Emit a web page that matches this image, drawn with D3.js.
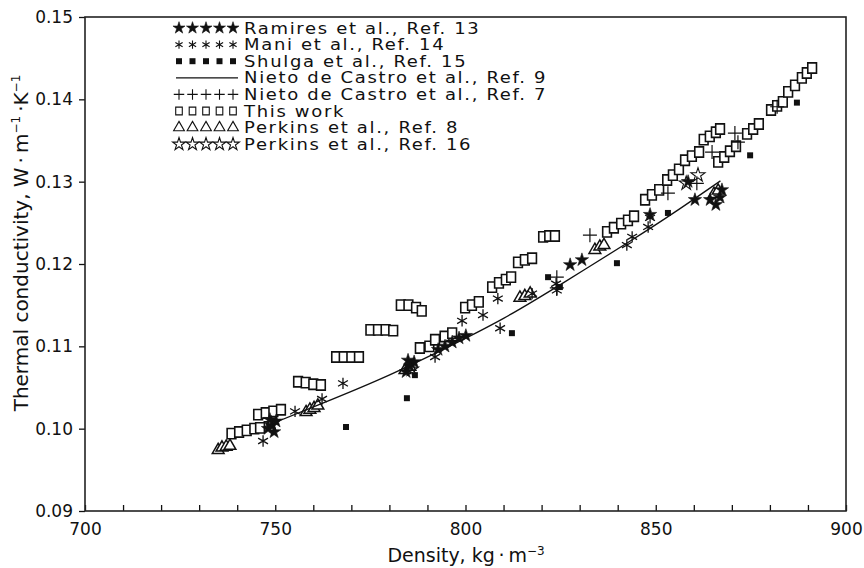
<!DOCTYPE html>
<html>
<head>
<meta charset="utf-8">
<script src="https://cdn.jsdelivr.net/npm/d3@7"></script>
<style>
  html, body { margin: 0; padding: 0; background: #fff; }
  svg { display: block; }
  text { font-family: "DejaVu Sans", "Liberation Sans", sans-serif; fill: #111; }
</style>
</head>
<body>
<svg id="chart" width="864" height="568"></svg>
<script>
// Thermal conductivity (W m^-1 K^-1) versus density (kg m^-3), each series as [density, conductivity]
const ramires = [
  [748.1,0.1000],[749.1,0.1004],[750.2,0.1009],[748.6,0.1011],[749.7,0.0996],
  [784.4,0.1069],[785.4,0.1076],[786.5,0.1081],[784.9,0.1083],
  [792.8,0.1096],[794.6,0.1100],[796.5,0.1105],[798.3,0.1110],[800.1,0.1113],
  [827.5,0.1199],[830.6,0.1205],
  [848.5,0.1260],
  [858.5,0.1300],[860.3,0.1278],
  [864.3,0.1278],[865.8,0.1272],[866.9,0.1281],[867.4,0.1290]
];
const mani = [
  [746.8,0.0985],[755.2,0.1021],[762.3,0.1036],[767.8,0.1055],
  [792.0,0.1087],[799.1,0.1131],[804.6,0.1138],[808.5,0.1158],[809.1,0.1122],
  [817.5,0.1164],[823.8,0.1176],[824.0,0.1168],
  [842.4,0.1223],[843.8,0.1233],[848.0,0.1245],[848.5,0.1256]
];
const shulga = [
  [768.6,0.1002],[784.6,0.1037],[786.7,0.1065],[812.2,0.1116],
  [821.7,0.1184],[824.8,0.1172],[839.8,0.1201],[853.2,0.1262],
  [874.8,0.1332],[887.1,0.1396]
];
const nietoRef9 = [
  [747,0.1002],[762,0.1030],[778,0.1061],[794,0.1096],[810,0.1134],
  [826,0.1178],[843,0.1227],[855,0.1263],[867,0.1301]
];
const nietoRef7 = [
  [824.0,0.1184],[824.0,0.1171],[832.7,0.1235],[853.2,0.1286],[860.8,0.1298],
  [864.8,0.1336],[870.8,0.1359],[871.6,0.1348],[881.9,0.1391]
];
const thisWork = [
  [738.5,0.0994],[740.5,0.0996],[742.5,0.0998],[744.5,0.1000],[746.0,0.1001],
  [745.5,0.1017],[747.5,0.1019],[749.5,0.1021],[751.5,0.1023],
  [756.0,0.1057],[758.0,0.1056],[760.0,0.1054],[762.0,0.1053],
  [766.0,0.1087],[768.0,0.1087],[770.0,0.1087],[772.0,0.1087],
  [775.0,0.1120],[777.0,0.1120],[779.0,0.1120],[781.0,0.1119],
  [783.0,0.1150],[785.0,0.1150],[787.0,0.1147],[788.5,0.1143],
  [788.0,0.1098],[790.5,0.1100],[792.0,0.1108],[794.5,0.1112],[796.5,0.1116],
  [799.9,0.1147],[801.7,0.1150],[803.5,0.1154],
  [807.0,0.1172],[808.8,0.1177],[810.6,0.1181],[812.0,0.1184],
  [813.8,0.1202],[815.6,0.1205],[817.5,0.1207],
  [820.4,0.1233],[822.0,0.1234],[823.5,0.1234],
  [837.2,0.1239],[839.0,0.1244],[840.9,0.1249],[842.7,0.1253],[844.3,0.1258],
  [847.2,0.1278],[849.0,0.1284],[850.9,0.1290],
  [853.0,0.1302],[854.5,0.1308],[856.1,0.1315],
  [857.7,0.1326],[859.5,0.1331],[861.4,0.1336],
  [862.6,0.1351],[864.2,0.1355],[865.8,0.1360],[866.9,0.1364],
  [866.4,0.1324],[868.0,0.1330],[869.5,0.1337],[871.1,0.1343],
  [874.0,0.1358],[875.6,0.1364],[877.1,0.1370],
  [880.3,0.1387],[881.9,0.1392],[883.4,0.1397],
  [884.8,0.1409],[886.6,0.1417],[888.4,0.1426],[889.7,0.1432],[891.1,0.1438]
];
const perkinsRef8 = [
  [735.0,0.0974],[736.0,0.0977],[737.1,0.0978],[738.1,0.0979],
  [758.1,0.1020],[759.1,0.1023],[760.2,0.1025],[761.2,0.1028],
  [784.1,0.1071],[785.4,0.1075],
  [814.3,0.1159],[815.6,0.1161],[817.0,0.1164],
  [834.0,0.1217],[835.3,0.1221],[836.4,0.1223],
  [865.3,0.1285],[866.4,0.1289]
];
const perkinsRef16 = [
  [749.0,0.1006],[785.8,0.1072],[858.0,0.1298],[861.1,0.1308]
];

const xDomain = [700, 900];
const yDomain = [0.09, 0.15];
const xMinorTicks = d3.range(700, 901, 10);
const xLabelTicks = [700, 750, 800, 850, 900];
const yTicks = [0.09, 0.10, 0.11, 0.12, 0.13, 0.14, 0.15];

const legendItems = [
  { label: "Ramires et al., Ref. 13", kind: "starFilled" },
  { label: "Mani et al., Ref. 14", kind: "asterisk" },
  { label: "Shulga et al., Ref. 15", kind: "squareFilled" },
  { label: "Nieto de Castro et al., Ref. 9", kind: "line" },
  { label: "Nieto de Castro et al., Ref. 7", kind: "plus" },
  { label: "This work", kind: "squareOpen" },
  { label: "Perkins et al., Ref. 8", kind: "triangle" },
  { label: "Perkins et al., Ref. 16", kind: "starOpen" }
];

const svg = d3.select("#chart");
const plotL = 85, plotR = 846, plotT = 17, plotB = 511;

const x = d3.scaleLinear().domain(xDomain).range([plotL, plotR]);
const y = d3.scaleLinear().domain(yDomain).range([plotB, plotT]);

// custom symbol shapes
const asteriskSym = {
  draw(ctx, size) {
    const r = Math.sqrt(size) / 2;
    for (const a of [90, 30, 150]) {
      const t = a * Math.PI / 180;
      ctx.moveTo(-r * Math.cos(t), -r * Math.sin(t));
      ctx.lineTo(r * Math.cos(t), r * Math.sin(t));
    }
  }
};
const plusSym = {
  draw(ctx, size) {
    const r = Math.sqrt(size) / 2;
    ctx.moveTo(-r, 0); ctx.lineTo(r, 0);
    ctx.moveTo(0, -r); ctx.lineTo(0, r);
  }
};
const rectSym = {
  draw(ctx, size) {
    const w = Math.sqrt(size) * 0.85, h = Math.sqrt(size);
    ctx.rect(-w / 2, -h / 2, w, h);
  }
};

const styles = {
  starFilled:   { type: d3.symbolStar, size: 55, fill: "#111", stroke: "#111", sw: 0.6 },
  starOpen:     { type: d3.symbolStar, size: 60, fill: "none", stroke: "#111", sw: 1.1 },
  asterisk:     { type: asteriskSym, size: 130, fill: "none", stroke: "#111", sw: 1.3 },
  squareFilled: { type: d3.symbolSquare, size: 36, fill: "#111", stroke: "none", sw: 0 },
  plus:         { type: plusSym, size: 196, fill: "none", stroke: "#111", sw: 1.2 },
  squareOpen:   { type: rectSym, size: 105, fill: "#fff", stroke: "#111", sw: 1.6 },
  triangle:     { type: d3.symbolTriangle, size: 60, fill: "#fff", stroke: "#111", sw: 1.5 }
};

function drawSeries(data, kind) {
  const s = styles[kind];
  svg.append("g").selectAll("path").data(data).join("path")
    .attr("transform", d => `translate(${x(d[0])},${y(d[1])})`)
    .attr("d", d3.symbol().type(s.type).size(s.size)())
    .attr("fill", s.fill).attr("stroke", s.stroke).attr("stroke-width", s.sw);
}

// axes
const xAxis = d3.axisBottom(x).tickValues(xMinorTicks).tickSizeInner(-6).tickSizeOuter(0)
  .tickFormat(d => xLabelTicks.includes(d) ? d : "").tickPadding(12);
const gx = svg.append("g").attr("transform", `translate(0,${plotB})`).call(xAxis);
gx.select(".domain").remove();
gx.selectAll("line").attr("stroke", "#111").attr("stroke-width", 1.3);
gx.selectAll("text").attr("font-size", 17).attr("fill", "#111").attr("font-family", "DejaVu Sans");

const yAxis = d3.axisLeft(y).tickValues(yTicks).tickSizeInner(6).tickSizeOuter(0)
  .tickFormat(d3.format(".2f")).tickPadding(6);
const gy = svg.append("g").attr("transform", `translate(${plotL},0)`).call(yAxis);
gy.select(".domain").remove();
gy.selectAll("line").attr("stroke", "#111").attr("stroke-width", 1.3);
gy.selectAll("text").attr("font-size", 17).attr("fill", "#111").attr("font-family", "DejaVu Sans");

// frame
svg.append("rect").attr("x", plotL).attr("y", plotT).attr("width", plotR - plotL).attr("height", plotB - plotT)
  .attr("fill", "none").attr("stroke", "#222").attr("stroke-width", 1.6);

// axis titles
const xt = svg.append("text").attr("x", 466).attr("y", 562).attr("text-anchor", "middle").attr("font-size", 19);
xt.append("tspan").text("Density, kg\u2009\u00B7\u2009m");
xt.append("tspan").attr("font-size", 12).attr("dy", -7).text("\u22123");

const yt = svg.append("text").attr("transform", "translate(28,243) rotate(-90)")
  .attr("text-anchor", "middle").attr("font-size", 20);
yt.append("tspan").text("Thermal conductivity, W\u2009\u00B7\u2009m");
yt.append("tspan").attr("font-size", 12).attr("dy", -8).text("\u22121");
yt.append("tspan").attr("dy", 8).text("\u2009\u00B7K");
yt.append("tspan").attr("font-size", 12).attr("dy", -8).text("\u22121");

// data series
drawSeries(thisWork, "squareOpen");
drawSeries(perkinsRef8, "triangle");
drawSeries(perkinsRef16, "starOpen");
drawSeries(shulga, "squareFilled");
drawSeries(mani, "asterisk");
drawSeries(nietoRef7, "plus");
drawSeries(ramires, "starFilled");

svg.append("path").datum(nietoRef9)
  .attr("d", d3.line().x(d => x(d[0])).y(d => y(d[1])).curve(d3.curveNatural))
  .attr("fill", "none").attr("stroke", "#111").attr("stroke-width", 1.3);

// legend
const lg = svg.append("g");
const rowY = i => 28 + i * 16.6;
legendItems.forEach((it, i) => {
  const yy = rowY(i);
  if (it.kind === "line") {
    lg.append("line").attr("x1", 176).attr("x2", 238).attr("y1", yy).attr("y2", yy)
      .attr("stroke", "#111").attr("stroke-width", 1.3);
  } else {
    const s = styles[it.kind];
    const sz = { plus: 110, squareOpen: 60, asterisk: 70, starFilled: 45, starOpen: 50, triangle: 50 }[it.kind] || s.size;
    for (let k = 0; k < 5; k++) {
      lg.append("path").attr("transform", `translate(${179 + k * 13.5},${yy})`)
        .attr("d", d3.symbol().type(s.type).size(sz)())
        .attr("fill", s.fill === "#fff" ? "none" : s.fill).attr("stroke", s.stroke).attr("stroke-width", Math.min(s.sw, 1.1));
    }
  }
  lg.append("text").attr("transform", `translate(244,${yy + 5.5}) scale(1.2,1)`)
    .attr("font-size", 15).attr("letter-spacing", 1.4).text(it.label);
});
</script>
</body>
</html>
